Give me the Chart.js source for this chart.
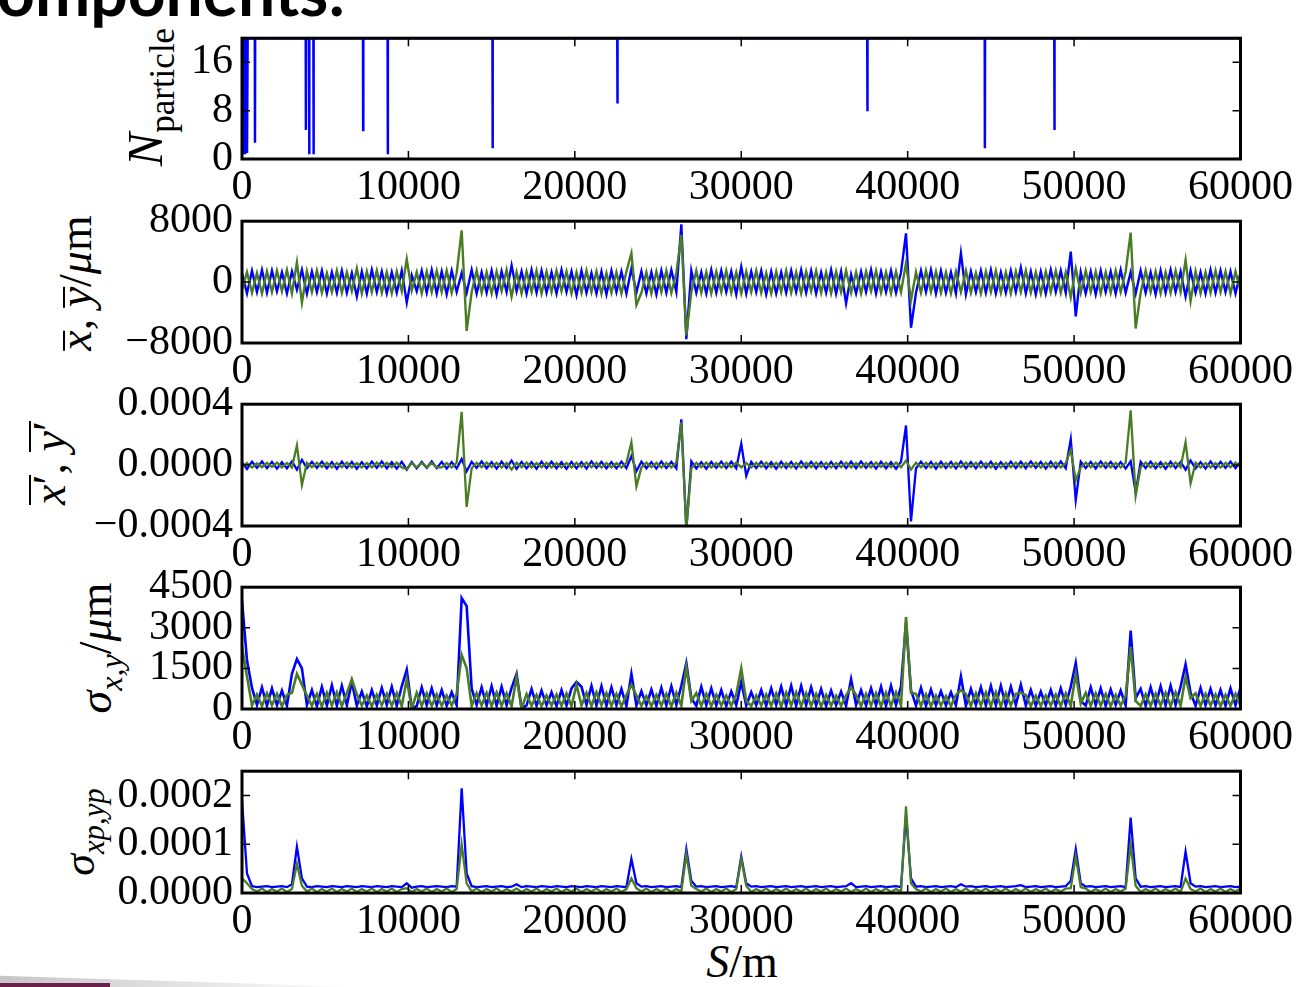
<!DOCTYPE html>
<html>
<head>
<meta charset="utf-8">
<script src="https://cdn.jsdelivr.net/npm/chart.js@4.4.1/dist/chart.umd.min.js"></script>
<style>
  html, body { margin: 0; padding: 0; background: #fff; }
  body { width: 1297px; height: 987px; position: relative; overflow: hidden; font-family: "Liberation Serif", serif; }
  canvas { position: absolute; left: 0; }
  .ylab { position: absolute; white-space: nowrap; transform: translate(-50%, -50%) rotate(-90deg); font-size: 46px; line-height: 1; color: #000; }
  .ylab sub { font-size: 0.7em; vertical-align: -0.35em; line-height: 1; }
  .ov { display: inline-block; line-height: 0.45; border-top: 2px solid #000; padding-top: 1px; }
  .ovp { display: inline-block; line-height: 0.78; border-top: 2px solid #000; padding-top: 1px; }
  .slide-title { position: absolute; left: -46px; top: -42px; font-family: Lato, "Open Sans", sans-serif; font-weight: 700; font-size: 66px; line-height: 66px; color: #000; white-space: nowrap; }
  .xlab { position: absolute; left: 742px; top: 962px; transform: translate(-50%, -50%); font-size: 46px; line-height: 1; white-space: nowrap; }
  .bar { position: absolute; left: 0; bottom: 0; width: 110px; height: 4px; background: #6d1f4b; }
  .shade { position: absolute; left: 0; bottom: 0; width: 360px; height: 16px; background: linear-gradient(to right, rgba(90,90,90,0.35), rgba(255,255,255,0)); clip-path: polygon(0 30%, 100% 100%, 0 100%); }
</style>
</head>
<body>
<div class="slide-title">Components:</div>
<div class="shade"></div>
<div class="bar"></div>

<div class="ylab" style="left:150px; top:97px; font-size:50px;"><i>N</i><sub>particle</sub></div>
<div class="ylab" style="left:76px; top:283px;"><i class="ov">x</i>, <i class="ov">y</i>/<i>μ</i>m</div>
<div class="ylab" style="left:50px; top:463px;"><span class="ovp"><i>x</i>′</span>, <span class="ovp"><i>y</i>′</span></div>
<div class="ylab" style="left:100px; top:648px;"><i>σ</i><sub><i>x,y</i></sub>/<i>μ</i>m</div>
<div class="ylab" style="left:84px; top:832px; font-size:44px;"><i>σ</i><sub><i>xp,yp</i></sub></div>
<div class="xlab"><i>S</i>/m</div>

<script>
// sampling of the beam line (m)
const sStart = 0;
const sStep = 300;

// particle count: positions (m) and values
const nS = [0, 20, 40, 70, 100, 140, 180, 220, 260, 300, 340, 370,
  770, 780, 790, 3830, 3840, 3850, 4030, 4040, 4050, 4290, 4300, 4310,
  7270, 7280, 7290, 8750, 8760, 8770, 15050, 15060, 15070, 22550, 22560, 22570,
  37570, 37580, 37590, 44630, 44640, 44650, 48810, 48820, 48830, 60000];
const nVal = [20, 3, 20, 1, 20, 1, 20, 1, 20, 1, 20, 20,
  20, 2.7, 20, 20, 4.8, 20, 20, 0.8, 20, 20, 0.8, 20,
  20, 4.8, 20, 20, 0.8, 20, 20, 1.8, 20, 20, 9.2, 20,
  20, 7.9, 20, 20, 1.8, 20, 20, 4.8, 20, 20];

// mean position x (um)
const xMean = [
  1200,-1500,1500,-1300,1600,-1400,1500,-1200,1300,-1500,1400,-1000,1600,-1500,1400,-1300,1500,-1500,1300,-1400,
  1500,-1400,1200,-1900,1400,-1500,1600,-1300,1400,-1500,1300,-1400,1500,-2700,900,-1200,1500,-1400,1600,-1500,
  1400,-1600,1500,-1300,1200,-1400,1600,-1500,1300,-1400,1500,-1600,1400,-1300,2200,-1200,1400,-1500,1600,-1400,
  1500,-1400,1300,-1500,1600,-1300,1400,-1700,1500,-1400,1200,-1500,1400,-1600,1500,-1300,1400,-1500,1800,-1400,
  1400,-1500,1300,-1600,1500,-1400,1600,-1300,7600,-7500,1500,-1400,1300,-1500,1600,-1400,1500,-1300,1400,-1600,
  2000,-1500,1400,-1300,1500,-1600,1400,-1500,1300,-1400,1500,-1300,1600,-1400,1500,-1500,1300,-1400,1600,-1500,
  1400,-2800,1000,-1500,1400,-1300,1600,-1500,1400,-1300,1500,-1400,1300,6400,-6000,-1400,1500,-1300,1600,-1500,
  1500,-1400,1300,-1500,3800,-1600,1400,-1300,1500,-1400,1600,-1500,1300,-1400,1500,-1300,1900,-1500,1400,-1600,
  1400,-1500,1600,-1300,1500,-1400,4000,-4500,1300,-1500,1400,-1600,1500,-1300,1400,-1500,1600,-1400,1300,-1500,
  1500,-1400,1300,-1600,1500,-1400,1600,-1300,1400,-1900,1500,-1400,1300,-1500,1600,-1400,1500,-1300,1400,-1500,
  1300];
// mean position y (um)
const yMean = [
  -1000,1300,-1400,1200,-1500,1400,-1300,1500,-1200,1600,-1500,2600,-2700,1400,-1300,1500,-1400,1200,-1300,1500,
  -1400,1300,-1200,1800,-1500,1400,-1300,1500,-1400,1300,-1500,1400,-1200,3000,-1100,1300,-1500,1400,-1300,1500,
  -1300,1500,-1400,1200,6800,-6400,-1300,1500,-1400,1300,-1500,1400,-1200,1600,-1900,1300,-1500,1400,-1300,1500,
  -1500,1400,-1300,1500,-1200,1400,-1500,1300,-1400,1500,-1300,1400,-1500,1200,-1400,1300,-1500,1400,3800,-3000,
  -1400,1300,-1500,1400,-1300,1500,-1400,1200,6200,-7000,-1300,1500,-1400,1300,-1500,1400,-1300,1500,-1400,1300,
  -1500,1400,-1300,1500,-1400,1200,-1500,1400,-1300,1500,-1400,1300,-1500,1400,-1200,1500,-1400,1300,-1500,1400,
  -1300,1500,-1400,1300,-1500,1400,-1200,1500,-1400,1300,-1500,1400,-1300,2500,-2400,1300,-1400,1500,-1300,1400,
  -1400,1300,-1500,1400,-1300,1500,-1400,1200,-1500,1400,-1300,1500,-1400,1300,-1500,1400,-1300,1500,-1400,1300,
  -1500,1400,-1300,1500,-1400,1300,-2000,1800,-1400,1500,-1300,1400,-1500,1300,-1400,1500,-1300,1400,6500,-6100,
  -1400,1500,-1300,1400,-1500,1300,-1400,1500,-1300,2900,-2500,1400,-1500,1300,-1400,1500,-1300,1400,-1500,1400,
  -1200];

// mean angle x' (urad)
const xpMean = [
  20,-25,22,-18,24,-20,21,-23,19,-22,25,-30,35,-20,22,-19,23,-21,20,-24,
  22,-19,21,-24,20,-22,23,-18,24,-21,19,-23,22,-30,20,-22,21,-19,24,-20,
  21,-23,20,-22,40,-40,22,-19,24,-21,20,-23,22,-19,30,-25,21,-22,20,-24,
  23,-20,22,-21,19,-24,21,-22,20,-23,24,-19,22,-21,20,-22,23,-20,60,-40,
  22,-21,20,-23,24,-20,21,-22,300,-420,25,-22,20,-24,21,-19,23,-20,22,-21,
  140,-70,22,-20,23,-21,19,-24,22,-20,21,-23,24,-19,22,-21,20,-23,21,-22,
  23,-20,22,-21,24,-19,20,-23,22,-21,19,-24,22,260,-370,-22,23,-20,21,-24,
  22,-20,21,-23,24,-21,20,-22,23,-19,22,-24,20,-21,23,-20,22,-21,24,-19,
  21,-23,22,-20,24,-21,170,-230,23,-20,21,-22,24,-19,22,-21,20,-23,25,-180,
  22,-20,23,-21,19,-24,22,-20,21,-30,30,-22,20,-23,24,-21,22,-19,23,-20,
  21];
// mean angle y' (urad)
const ypMean = [
  -15,14,-16,12,-14,15,-13,16,-15,14,-16,130,-130,15,-14,16,-12,15,-16,14,
  -14,16,-15,13,-16,14,-15,16,-13,15,-14,16,-15,-25,14,-16,15,-14,13,-15,
  -15,14,-16,15,350,-275,-20,15,-14,16,-13,15,-16,14,-30,15,-14,16,-15,13,
  -14,15,-16,13,-15,14,-16,15,-13,16,-14,15,-16,14,-15,13,-16,15,150,-140,
  -15,16,-14,15,-16,14,-15,16,280,-420,-20,15,-14,16,-15,13,-16,15,-14,16,
  -15,14,-16,15,-13,16,-14,15,-16,13,-15,14,-16,15,-14,16,-13,15,-16,14,
  -14,16,-15,13,-16,14,-15,16,-13,15,-14,16,-15,30,-30,16,-14,15,-16,13,
  -15,14,-16,15,-14,16,-13,15,-16,14,-15,13,-16,15,-14,16,-15,14,-13,16,
  -16,15,-14,16,-15,13,100,-100,-15,16,-14,15,-13,16,-15,14,-16,15,360,-200,
  -14,16,-15,14,-16,15,-13,16,-14,150,-120,15,-16,14,-15,13,-16,15,-14,16,
  -15];

// beam size x (um)
const sigX = [
  4000,1800,780,150,800,120,760,140,680,120,1300,1850,1500,150,700,100,820,130,880,120,
  860,140,1000,120,650,100,700,130,780,150,820,120,840,1450,20,110,800,140,760,130,
  700,120,620,140,4100,3800,760,150,800,130,840,120,820,140,780,1300,30,130,740,120,
  680,140,620,110,700,130,760,1000,820,150,850,130,840,120,800,140,740,110,1300,130,
  660,140,720,120,780,130,840,150,860,1700,400,120,820,140,760,130,700,110,650,140,
  1000,130,620,140,700,120,760,150,820,130,860,120,850,140,800,130,740,110,680,140,
  640,120,1100,150,700,130,760,140,820,120,860,150,840,3200,700,130,780,120,720,140,
  660,130,620,140,1200,120,740,150,800,130,850,140,860,120,820,150,900,130,700,120,
  640,140,700,120,760,150,820,1700,300,130,800,140,760,120,720,150,680,130,2900,400,
  740,120,800,140,840,130,860,150,820,1650,600,120,780,140,740,130,700,120,760,140,
  800];
// beam size y (um)
const sigY = [
  2300,1200,130,540,110,580,140,560,100,520,600,1300,900,500,120,560,90,600,130,620,
  110,580,1100,540,120,500,100,530,140,560,120,590,100,1100,10,600,120,580,110,540,
  120,500,130,560,2000,1500,110,580,130,600,110,610,120,580,100,1180,10,550,120,520,
  110,500,130,540,120,570,100,900,130,600,110,620,140,590,120,560,100,520,900,500,
  120,480,110,520,130,560,100,600,120,1550,300,590,120,560,110,530,130,500,120,540,
  1500,300,110,500,130,540,120,580,100,610,130,620,110,590,120,560,100,520,130,490,
  120,500,800,520,110,560,130,590,100,610,120,620,130,3400,600,560,120,540,110,500,
  130,480,110,520,700,550,120,590,130,610,110,620,100,590,130,560,600,520,110,490,
  120,500,130,540,110,580,120,1300,200,600,120,580,130,550,110,520,130,500,2300,300,
  110,540,120,570,130,600,110,620,120,1200,400,580,120,560,130,540,110,520,120,560,
  120];

// angular spread x' and y' (urad)
const sigXp = [
  190,40,14,12,13,14,12,13,14,12,18,95,30,13,12,14,13,12,14,13,
  12,14,13,12,14,13,12,14,13,12,14,13,12,20,11,13,14,12,13,14,
  13,12,14,13,215,40,14,12,13,14,12,13,14,12,13,18,12,14,13,12,
  14,13,12,14,13,12,14,13,12,14,13,12,14,13,12,14,13,12,70,20,
  13,14,12,13,14,12,13,14,12,90,25,13,14,12,13,14,12,13,14,12,
  75,20,13,14,12,13,14,12,13,14,12,13,14,12,13,14,12,13,14,12,
  13,14,20,12,13,14,12,13,14,12,13,14,12,160,30,13,14,12,13,14,
  12,13,14,12,18,13,14,12,13,14,12,13,14,12,13,14,16,12,13,14,
  12,13,14,12,13,14,25,90,20,13,14,12,13,14,12,13,14,12,155,30,
  13,14,12,13,14,12,13,14,12,85,20,13,14,12,13,14,12,13,14,12,
  13];
const sigYp = [
  30,20,8,3,9,2,8,3,9,2,8,60,15,3,9,2,8,3,9,2,
  8,3,9,2,8,3,9,2,8,3,9,2,8,10,2,8,3,9,2,8,
  3,9,2,8,100,20,3,9,2,8,3,9,2,8,3,9,2,8,3,9,
  2,8,3,9,2,8,3,9,2,8,3,9,2,8,3,9,2,8,30,10,
  3,9,2,8,3,9,2,8,3,80,15,8,3,9,2,8,3,9,2,8,
  70,15,2,8,3,9,2,8,3,9,2,8,3,9,2,8,3,9,2,8,
  3,9,2,8,3,9,2,8,3,9,2,8,3,178,20,8,3,9,2,8,
  3,9,2,8,3,9,2,8,3,9,2,8,3,9,2,8,3,9,2,8,
  3,9,2,8,3,9,10,75,12,9,2,8,3,9,2,8,3,9,100,15,
  2,8,3,9,2,8,3,9,2,30,8,3,9,2,8,3,9,2,8,3,
  9];

// tick values and labels
const sTicks = [0, 10000, 20000, 30000, 40000, 50000, 60000];
const sTickText = ['0', '10000', '20000', '30000', '40000', '50000', '60000'];
const nTicks = [0, 8, 16];
const nTickText = ['0', '8', '16'];
const meanTicks = [-8000, 0, 8000];
const meanTickText = ['\u22128000', '0', '8000'];
const angTicks = [-400, 0, 400];
const angTickText = ['\u22120.0004', '0.0000', '0.0004'];
const sigTicks = [0, 1500, 3000, 4500];
const sigTickText = ['0', '1500', '3000', '4500'];
const sigpTicks = [0, 100, 200];
const sigpTickText = ['0.0000', '0.0001', '0.0002'];

const BLUE = '#0000ff';
const GREEN = '#4a7d23';
const tickFont = { family: '"Liberation Serif", serif', size: 42 };

const sPos = xMean.map((_, i) => sStart + i * sStep);
const pts = (xs, ys) => ys.map((y, i) => ({ x: xs[i], y: y }));

// inward ticks on all four sides plus the frame
const frameTicks = {
  id: 'frameTicks',
  afterDraw(chart) {
    const { ctx, chartArea: a, scales: { x, y } } = chart;
    ctx.save();
    ctx.strokeStyle = '#000';
    ctx.lineWidth = 1.5;
    ctx.beginPath();
    x.ticks.forEach(t => {
      const px = x.getPixelForValue(t.value);
      ctx.moveTo(px, a.bottom); ctx.lineTo(px, a.bottom - 8);
      ctx.moveTo(px, a.top); ctx.lineTo(px, a.top + 8);
    });
    y.ticks.forEach(t => {
      const py = y.getPixelForValue(t.value);
      ctx.moveTo(a.left, py); ctx.lineTo(a.left + 8, py);
      ctx.moveTo(a.right, py); ctx.lineTo(a.right - 8, py);
    });
    ctx.stroke();
    ctx.lineWidth = 3;
    ctx.strokeRect(a.left, a.top, a.right - a.left, a.bottom - a.top);
    ctx.restore();
  }
};

const padTop = 25;
const xAxisH = 55;

function makeChart(cv, h, datasets, yMin, yMax, yVals, yText) {
  cv.width = 1297;
  cv.height = h;
  return new Chart(cv.getContext('2d'), {
    type: 'line',
    data: { datasets: datasets },
    options: {
      responsive: false,
      animation: false,
      events: [],
      layout: { autoPadding: false, padding: { top: padTop, right: 55, left: 0, bottom: 0 } },
      plugins: { legend: { display: false }, tooltip: { enabled: false } },
      elements: { point: { radius: 0 }, line: { tension: 0 } },
      scales: {
        x: {
          type: 'linear', min: 0, max: 60000,
          grid: { display: false, drawTicks: false },
          border: { display: false },
          afterBuildTicks: s => { s.ticks = sTicks.map(v => ({ value: v })); },
          afterFit: s => { s.height = xAxisH; },
          ticks: {
            font: tickFont, color: '#000', padding: 4, maxRotation: 0, autoSkip: false,
            callback: v => sTickText[sTicks.indexOf(v)]
          }
        },
        y: {
          type: 'linear', min: yMin, max: yMax,
          grid: { display: false, drawTicks: false },
          border: { display: false },
          afterBuildTicks: s => { s.ticks = yVals.map(v => ({ value: v })); },
          afterFit: s => { s.width = 242; },
          ticks: {
            font: tickFont, color: '#000', padding: 9, autoSkip: false,
            callback: v => yText[yVals.indexOf(v)]
          }
        }
      }
    },
    plugins: [frameTicks]
  });
}

function panel(plotTop, plotBottom, datasets, yMin, yMax, yVals, yText) {
  const cv = document.createElement('canvas');
  document.body.appendChild(cv);
  const want = plotBottom - plotTop;
  let h = want + padTop + xAxisH;
  let chart = makeChart(cv, h, datasets, yMin, yMax, yVals, yText);
  // line the plot box up with the picture
  const have = chart.chartArea.bottom - chart.chartArea.top;
  if (have !== want) {
    chart.destroy();
    h += want - have;
    chart = makeChart(cv, h, datasets, yMin, yMax, yVals, yText);
  }
  cv.style.top = (plotTop - chart.chartArea.top) + 'px';
}

const line = (data, color, w, order) => ({ data: data, borderColor: color, borderWidth: w, fill: false, order: order });

panel(38, 159, [line(pts(nS, nVal), BLUE, 2.5, 1)], 0, 20, nTicks, nTickText);
panel(221, 343, [line(pts(sPos, xMean), BLUE, 2.4, 2), line(pts(sPos, yMean), GREEN, 2.4, 1)], -8000, 8000, meanTicks, meanTickText);
panel(404, 526, [line(pts(sPos, xpMean), BLUE, 2.3, 2), line(pts(sPos, ypMean), GREEN, 2.3, 1)], -400, 400, angTicks, angTickText);
panel(587, 709, [line(pts(sPos, sigX), BLUE, 2.6, 2), line(pts(sPos, sigY), GREEN, 2.6, 1)], 0, 4500, sigTicks, sigTickText);
panel(771, 893, [line(pts(sPos, sigXp), BLUE, 2.3, 2), line(pts(sPos, sigYp), GREEN, 2.3, 1)], 0, 250, sigpTicks, sigpTickText);
</script>
</body>
</html>
